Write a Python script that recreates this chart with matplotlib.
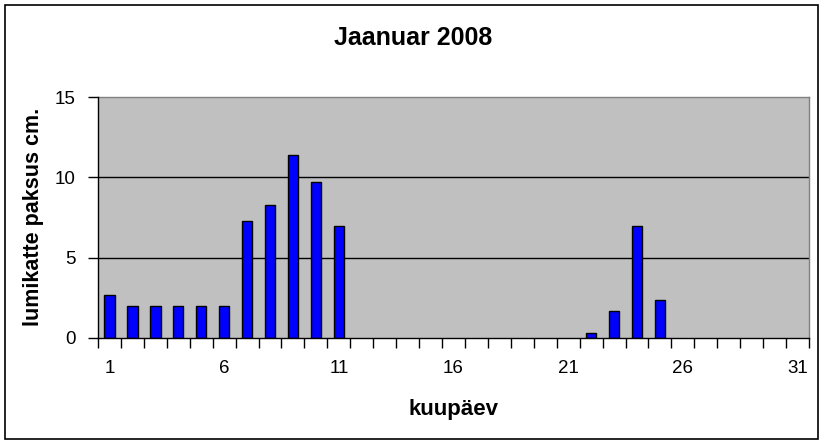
import numpy as np
import matplotlib
matplotlib.use("Agg")
import matplotlib.pyplot as plt
from matplotlib.patches import Rectangle

plt.rcParams['font.family'] = ['Liberation Sans', 'DejaVu Sans']

# lumikatte paksus (cm) jaanuari päevade kaupa
days = list(range(1, 32))
snow = [2.7, 2, 2, 2, 2, 2, 7.3, 8.3, 11.4, 9.7, 7.0,
        0, 0, 0, 0, 0, 0, 0, 0, 0, 0,
        0.3, 1.7, 7.0, 2.35,
        0, 0, 0, 0, 0, 0]
label_days = [1, 6, 11, 16, 21, 26, 31]
y_ticks = [0, 5, 10, 15]

W, H = 825, 445
fig = plt.figure(figsize=(W / 100, H / 100), dpi=100)
fig.patch.set_facecolor('white')

# välimine raam
fig.patches.append(Rectangle((5 / W, 1 - 439 / H), 813 / W, 434 / H,
                             transform=fig.transFigure, fill=False,
                             edgecolor='black', linewidth=1.2))

ax = fig.add_axes([98 / W, 1 - 338 / H, (809 - 98) / W, (338 - 97) / H])
ax.set_facecolor('#C0C0C0')

x = np.arange(len(days))
edges = ['black' if v > 0 else 'none' for v in snow]
ax.bar(x, snow, width=0.4545, color='#0000FF', edgecolor=edges,
       linewidth=1.0, zorder=3)

ax.set_xlim(-0.5, len(days) - 0.5)
ax.set_ylim(0, 15)

# jaotised kategooriate piiridel, sildid keskel
ax.set_xticks(np.arange(-0.5, len(days), 1))
ax.set_xticklabels([])
ax.set_xticks([d - 1 for d in label_days], minor=True)
ax.set_xticklabels([str(d) for d in label_days], minor=True)
ax.tick_params(axis='x', which='major', direction='out', length=7,
               width=1, color='black')
ax.tick_params(axis='x', which='minor', length=0, pad=16, labelsize=13.5)

ax.set_yticks(y_ticks)
ax.tick_params(axis='y', direction='out', length=7, width=1, pad=9,
               labelsize=13.5)

for v in y_ticks[1:-1]:
    ax.axhline(v, color='black', linewidth=1.0, zorder=2)

for s in ['top', 'right']:
    ax.spines[s].set_color('#808080')
    ax.spines[s].set_linewidth(1.0)
for s in ['left', 'bottom']:
    ax.spines[s].set_color('black')
    ax.spines[s].set_linewidth(1.0)
    ax.spines[s].set_zorder(4)

fig.text(413 / W, 1 - 38 / H, 'Jaanuar 2008', ha='center', va='center',
         fontsize=18, fontweight='bold')
fig.text(453 / W, 1 - 410 / H, 'kuupäev', ha='center', va='center',
         fontsize=16, fontweight='bold')
fig.text(34 / W, 1 - 217 / H, 'lumikatte paksus cm.', ha='center',
         va='center', rotation=90, fontsize=15.5, fontweight='bold')

fig.savefig('out.png', dpi=100)
